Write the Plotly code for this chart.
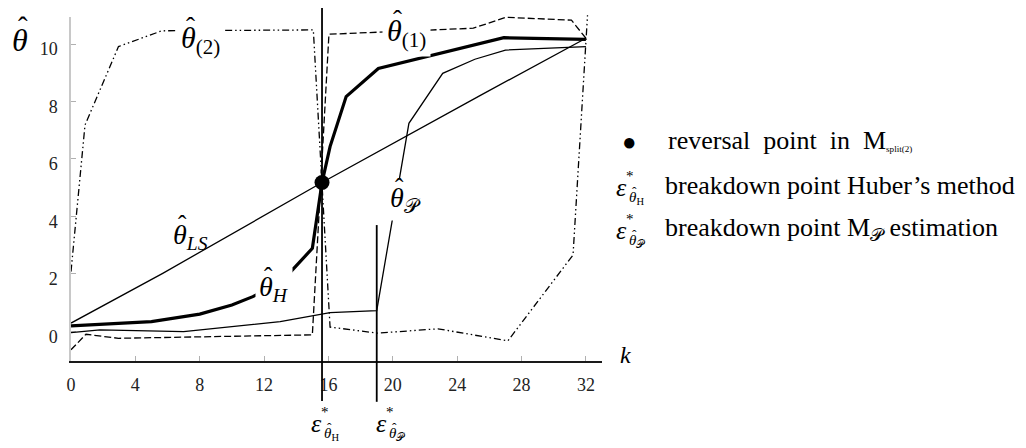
import plotly.graph_objects as go

# ---------------- data ----------------
k_ls = [0, 5.7, 15.6, 25.5, 32]
v_ls = [0.29, 2.02, 5.18, 8.23, 10.20]

k_h = [0, 5.0, 8.0, 10.0, 11.3, 13.0, 15.0, 15.6, 16.1, 17.1, 19.1, 26.9, 32.0]
v_h = [0.19, 0.34, 0.60, 0.92, 1.21, 1.68, 2.89, 5.18, 6.43, 8.17, 9.15, 10.22, 10.16]

k_p = [0, 1.8, 7.0, 13.0, 16.1, 19.0, 21.0, 23.1, 25.1, 27.0, 32.0]
v_p = [-0.04, 0.05, -0.01, 0.34, 0.65, 0.72, 7.24, 8.98, 9.47, 9.79, 9.91]

k_1 = [0, 0.93, 2.95, 15.0, 16.03, 25.0, 27.04, 31.1, 32.0]
v_1 = [-0.64, -0.10, -0.24, -0.12, 10.34, 10.55, 10.93, 10.83, 10.2]

k_2 = [0, 0.87, 2.95, 5.65, 15.06, 16.1, 19.05, 22.8, 27.15, 31.2, 32.1]
v_2 = [2.08, 7.18, 9.91, 10.46, 10.49, 0.15, -0.06, 0.09, -0.33, 2.66, 11.0]

reversal_k = [15.6]
reversal_v = [5.18]

breakdown_k = [15.6, 19.0]
breakdown_top = [11.25, 3.70]
breakdown_bottom = [-2.42, -2.45]

x_ticks = [0, 4, 8, 12, 16, 20, 24, 28, 32]
y_ticks = [0, 2, 4, 6, 8, 10]

# ---------------- layout geometry ----------------
OFF = 8                      # page body margin of the html page
W, H = 1026 - OFF, 448 - OFF
ML, MR, MT, MB = 71 - OFF, W - (602 - OFF), 0, H - (403 - OFF)
plot_w = W - ML - MR
plot_h = H - MT - MB
y_top_px, y_bot_px = 17 - OFF, 361 - OFF   # visible y axis extent
y_range = [-1.03, 10.94]
x_range = [0, 33]
ppu = (y_bot_px - y_top_px) / (y_range[1] - y_range[0])
y_dom = [(H - MB - y_bot_px) / plot_h, (H - MB - y_top_px) / plot_h]
y2_range = [y_range[0] - (H - MB - y_bot_px) / ppu,
            y_range[1] + (y_top_px - MT) / ppu]

SERIF = "Liberation Serif, Times New Roman, serif"
HAT = "\u02c6"
SCRP = "\U0001D4AB"   # script P


def px(xr, yr):
    """reference-page pixel -> paper coordinates"""
    xf, yf = xr - OFF, yr - OFF
    return (xf - ML) / plot_w, (H - MB - yf) / plot_h


fig = go.Figure()


def line(k, v, width, dash="solid"):
    fig.add_trace(go.Scatter(x=k, y=v, mode="lines", xaxis="x", yaxis="y2",
                             line=dict(color="black", width=width, dash=dash),
                             hoverinfo="skip", showlegend=False))


fig.add_trace(go.Scatter(x=[], y=[], xaxis="x", yaxis="y", showlegend=False))

line(k_ls, v_ls, 1.3)
line(k_p, v_p, 1.3)
line(k_1, v_1, 1.3, "7px,3px")
line(k_2, v_2, 1.3, "7px,3px,1.5px,3px,1.5px,3px")
line(k_h, v_h, 3.2)

for kk, top, bot in zip(breakdown_k, breakdown_top, breakdown_bottom):
    line([kk, kk], [bot, top], 1.8)

fig.add_trace(go.Scatter(x=reversal_k, y=reversal_v, mode="markers", xaxis="x", yaxis="y2",
                         marker=dict(color="black", size=15), hoverinfo="skip",
                         showlegend=False, cliponaxis=False))

annotations = []


def ann(text, x, y, size, xref="paper", yref="paper", xanchor="center",
        yanchor="middle", bg=None, pad=1, xshift=0, yshift=0):
    d = dict(text=text, x=x, y=y, xref=xref, yref=yref, xanchor=xanchor,
             yanchor=yanchor, showarrow=False, borderpad=pad,
             xshift=xshift, yshift=yshift,
             font=dict(family=SERIF, size=size, color="black"))
    if bg:
        d["bgcolor"] = bg
    annotations.append(d)


def theta(x, y, sub, size, xref="paper", yref="paper", bg=None, pad=1):
    """theta-hat with subscript; (x, y) = left edge / vertical centre of theta"""
    txt = "<i>\u03b8</i>" + (f"<sub>{sub}</sub>" if sub else "")
    tshift = -0.12 * size if sub else 0
    ann(txt, x, y, size, xref, yref, xanchor="left", bg=bg, pad=pad,
        xshift=-pad, yshift=tshift)
    ann(HAT, x, y, size * 0.9, xref, yref, xanchor="left", pad=0,
        xshift=0.18 * size, yshift=tshift + 0.42 * size)


# curve labels (data coordinates)
theta(6.75, 10.28, "(2)", 30, "x", "y2", bg="white", pad=4)
theta(19.6, 10.52, "(1)", 30, "x", "y2", bg="white", pad=4)
theta(6.3, 3.43, "<i>LS</i>", 28, "x", "y2")
theta(11.6, 1.62, "<i>H</i>", 28, "x", "y2", bg="white", pad=3)
theta(19.75, 4.71, SCRP, 28, "x", "y2", bg="white", pad=3)

# axis titles
a, b = px(11, 40)
theta(a, b, "", 32)
a, b = px(625, 355)
ann("<i>k</i>", a, b, 24)


# epsilon labels (bottom and legend)
def eps(cx, cy, sub):
    a, b = px(cx, cy)
    ann("<i>\u03b5</i>", a, b, 26)
    a, b = px(cx + 4, cy - 11)
    ann("*", a, b, 15, xanchor="left", pad=0)
    a, b = px(cx + 7, cy + 9)
    theta(a, b, sub, 15, pad=0)


eps(316, 423, "H")
eps(381, 423, SCRP)
eps(621, 187, "H")
eps(621, 230, SCRP)

# legend
a, b = px(629, 142)
ann("\u25cf", a, b, 24)
a, b = px(667, 140)
ann("reversal\u2002point\u2002in\u2002M<span style='font-size:13px'><sub>split(2)</sub></span>",
    a, b, 26, xanchor="left", pad=0)
a, b = px(664, 186)
ann("breakdown point Huber\u2019s method", a, b, 26, xanchor="left", pad=0)
a, b = px(664, 229)
ann(f"breakdown point M<sub>{SCRP}</sub> estimation", a, b, 26, xanchor="left", pad=0)

fig.update_layout(
    width=W, height=H,
    margin=dict(l=ML, r=MR, t=MT, b=MB),
    paper_bgcolor="white", plot_bgcolor="rgba(0,0,0,0)",
    showlegend=False,
    annotations=annotations,
    xaxis=dict(range=x_range, domain=[0, 1], anchor="y", showgrid=False, zeroline=False,
               showline=True, linecolor="#1a1a1a", linewidth=2.2,
               ticks="inside", ticklen=5, tickwidth=1, tickcolor="#b0b0b0",
               tickvals=x_ticks, ticklabelstandoff=6,
               tickfont=dict(family=SERIF, size=18, color="#222")),
    yaxis=dict(range=y_range, domain=y_dom, anchor="x", showgrid=False, zeroline=False,
               showline=True, linecolor="#c8c8c8", linewidth=1.5,
               ticks="inside", ticklen=5, tickwidth=1, tickcolor="#b0b0b0",
               tickvals=y_ticks, ticklabelstandoff=8, ticklabelshift=5,
               tickfont=dict(family=SERIF, size=18, color="#222")),
    yaxis2=dict(range=y2_range, domain=[0, 1], anchor="x", visible=False),
)

fig.write_html("out.html")
